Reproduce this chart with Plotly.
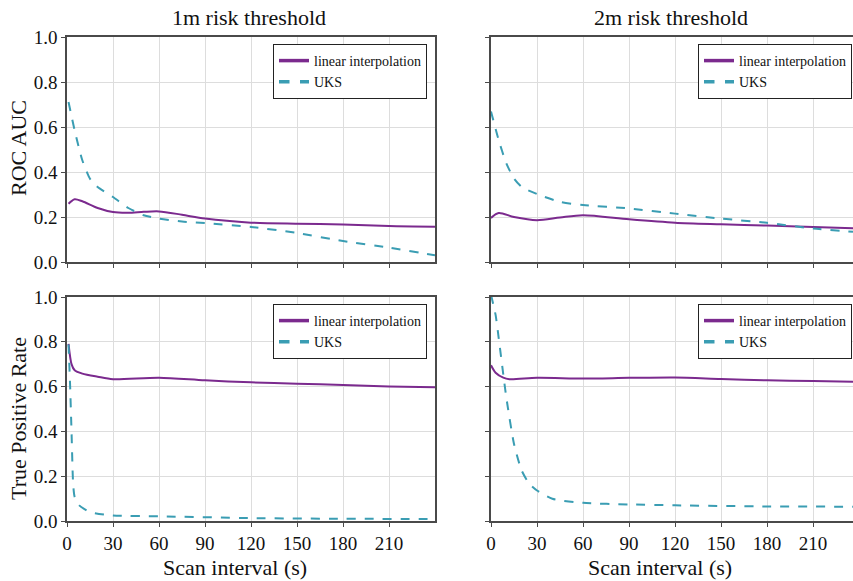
import plotly.graph_objects as go

# ---------------- data ----------------
# Top-left: ROC AUC, 1m threshold
tl_lin_x = [1, 5, 10, 20, 30, 40, 50, 60, 75, 90, 120, 150, 180, 210, 240]
tl_lin_y = [0.259, 0.279, 0.270, 0.240, 0.222, 0.219, 0.223, 0.225, 0.210, 0.193, 0.175, 0.170, 0.167, 0.160, 0.157]
tl_uks_x = [1, 5, 10, 15, 20, 30, 40, 50, 60, 75, 90, 120, 150, 180, 210, 240]
tl_uks_y = [0.711, 0.585, 0.452, 0.370, 0.333, 0.289, 0.240, 0.208, 0.193, 0.180, 0.173, 0.156, 0.129, 0.093, 0.064, 0.030]

# Top-right: ROC AUC, 2m threshold
tr_lin_x = [0, 5, 15, 30, 45, 60, 90, 120, 150, 180, 210, 236]
tr_lin_y = [0.196, 0.218, 0.200, 0.186, 0.198, 0.208, 0.190, 0.175, 0.168, 0.162, 0.156, 0.150]
tr_uks_x = [0, 5, 10, 15, 20, 30, 45, 60, 90, 120, 150, 180, 210, 236]
tr_uks_y = [0.669, 0.542, 0.438, 0.371, 0.334, 0.302, 0.267, 0.253, 0.238, 0.215, 0.193, 0.174, 0.149, 0.134]

# Bottom-left: True Positive Rate, 1m threshold
bl_lin_x = [1, 3, 5, 10, 20, 30, 60, 90, 120, 150, 180, 210, 240]
bl_lin_y = [0.791, 0.699, 0.673, 0.658, 0.644, 0.633, 0.640, 0.628, 0.619, 0.613, 0.607, 0.601, 0.597]
bl_uks_x = [1, 2, 3, 4, 5, 8, 15, 30, 60, 120, 180, 240]
bl_uks_y = [0.788, 0.610, 0.388, 0.166, 0.107, 0.070, 0.040, 0.025, 0.021, 0.013, 0.010, 0.009]

# Bottom-right: True Positive Rate, 2m threshold
br_lin_x = [0, 3, 8, 12, 30, 60, 90, 120, 150, 180, 210, 236]
br_lin_y = [0.695, 0.662, 0.640, 0.633, 0.639, 0.636, 0.639, 0.641, 0.634, 0.628, 0.625, 0.622]
br_uks_x = [0, 3, 5, 8, 10, 15, 20, 25, 30, 40, 60, 90, 120, 180, 236]
br_uks_y = [1.01, 0.92, 0.818, 0.655, 0.551, 0.344, 0.225, 0.166, 0.136, 0.099, 0.081, 0.074, 0.070, 0.065, 0.064]

x_ticks = [0, 30, 60, 90, 120, 150, 180, 210]
y_ticks = [0.0, 0.2, 0.4, 0.6, 0.8, 1.0]
col_titles = ["1m risk threshold", "2m risk threshold"]
row_titles = ["ROC AUC", "True Positive Rate"]
x_title = "Scan interval (s)"
series_names = ["linear interpolation", "UKS"]

PURPLE = "#7b2a8e"
TEAL = "#3a9db3"
FONT = "Liberation Serif"

W, H = 853, 581
def px_x(p): return p / W
def px_y(p): return (H - p) / H

panels = [
    ("x", "y", "legend", (tl_lin_x, tl_lin_y), (tl_uks_x, tl_uks_y)),
    ("x2", "y2", "legend2", (tr_lin_x, tr_lin_y), (tr_uks_x, tr_uks_y)),
    ("x3", "y3", "legend3", (bl_lin_x, bl_lin_y), (bl_uks_x, bl_uks_y)),
    ("x4", "y4", "legend4", (br_lin_x, br_lin_y), (br_uks_x, br_uks_y)),
]

fig = go.Figure()
for xa, ya, lg, lin, uks in panels:
    fig.add_trace(go.Scatter(x=lin[0], y=lin[1], mode="lines", name=series_names[0],
                             line=dict(color=PURPLE, width=2, shape="spline", smoothing=0.8),
                             xaxis=xa, yaxis=ya, showlegend=False))
    fig.add_trace(go.Scatter(x=uks[0], y=uks[1], mode="lines", name=series_names[1],
                             line=dict(color=TEAL, width=2, dash="dash", shape="spline", smoothing=0.6),
                             xaxis=xa, yaxis=ya, showlegend=False))
    # legend entries (thicker sample lines, as in the reference)
    fig.add_trace(go.Scatter(x=[None], y=[None], mode="lines", name=series_names[0],
                             line=dict(color=PURPLE, width=3.5),
                             xaxis=xa, yaxis=ya, legend=lg, hoverinfo="skip"))
    fig.add_trace(go.Scatter(x=[None], y=[None], mode="lines", name=series_names[1],
                             line=dict(color=TEAL, width=3.5, dash="dash"),
                             xaxis=xa, yaxis=ya, legend=lg, hoverinfo="skip"))

left_dom = [px_x(67), px_x(435)]
right_dom = [px_x(491), 1.0]
top_dom = [px_y(262), px_y(37)]
bot_dom = [px_y(521), px_y(297)]

axis_common = dict(showgrid=True, gridcolor="#dddddd", gridwidth=1, zeroline=False,
                   showline=True, linecolor="#4a4a4a", linewidth=1.5, mirror=True,
                   ticks="outside", ticklen=4, tickcolor="#4a4a4a", automargin=False,
                   tickfont=dict(family=FONT, size=19, color="#111111"))

def xaxis(dom, rng, anchor, labels):
    d = dict(axis_common)
    d.update(domain=dom, range=rng, anchor=anchor, tickvals=x_ticks,
             showticklabels=labels)
    return d

def yaxis(dom, anchor, labels):
    d = dict(axis_common)
    d.update(domain=dom, range=[0, 1], anchor=anchor, tickvals=y_ticks,
             tickformat=".1f", showticklabels=labels)
    return d

legend_common = dict(bgcolor="white", bordercolor="#222222", borderwidth=1,
                     font=dict(family=FONT, size=14, color="#111111"),
                     xanchor="right", yanchor="top", itemwidth=30,
                     tracegroupgap=0)

fig.update_layout(
    template="none",
    font=dict(family=FONT, size=19, color="#111111"),
    width=W, height=H,
    margin=dict(l=0, r=0, t=0, b=0, autoexpand=False),
    paper_bgcolor="white", plot_bgcolor="white",
    xaxis=xaxis(left_dom, [0, 240], "y", False),
    yaxis=yaxis(top_dom, "x", True),
    xaxis2=xaxis(right_dom, [0, 236], "y2", False),
    yaxis2=yaxis(top_dom, "x2", False),
    xaxis3=xaxis(left_dom, [0, 240], "y3", True),
    yaxis3=yaxis(bot_dom, "x3", True),
    xaxis4=xaxis(right_dom, [0, 236], "y4", True),
    yaxis4=yaxis(bot_dom, "x4", False),
    legend=dict(legend_common, x=px_x(427), y=px_y(44)),
    legend2=dict(legend_common, x=px_x(852), y=px_y(44)),
    legend3=dict(legend_common, x=px_x(427), y=px_y(304)),
    legend4=dict(legend_common, x=px_x(852), y=px_y(304)),
    showlegend=True,
)

ann_font = dict(family=FONT, size=22, color="#111111")
annotations = [
    dict(text=col_titles[0], x=px_x(249), y=px_y(18), xref="paper", yref="paper",
         showarrow=False, font=ann_font, xanchor="center", yanchor="middle"),
    dict(text=col_titles[1], x=px_x(671), y=px_y(18), xref="paper", yref="paper",
         showarrow=False, font=ann_font, xanchor="center", yanchor="middle"),
    dict(text=row_titles[0], x=px_x(18), y=px_y(148), xref="paper", yref="paper",
         showarrow=False, font=ann_font, textangle=-90, xanchor="center", yanchor="middle"),
    dict(text=row_titles[1], x=px_x(18), y=px_y(419), xref="paper", yref="paper",
         showarrow=False, font=ann_font, textangle=-90, xanchor="center", yanchor="middle"),
    dict(text=x_title, x=px_x(235), y=px_y(567), xref="paper", yref="paper",
         showarrow=False, font=ann_font, xanchor="center", yanchor="middle"),
    dict(text=x_title, x=px_x(660), y=px_y(567), xref="paper", yref="paper",
         showarrow=False, font=ann_font, xanchor="center", yanchor="middle"),
]
fig.update_layout(annotations=annotations)

fig.write_html("out.html", config={"displayModeBar": False},
               post_script="document.body.style.margin='0px';document.body.style.overflow='hidden';")
